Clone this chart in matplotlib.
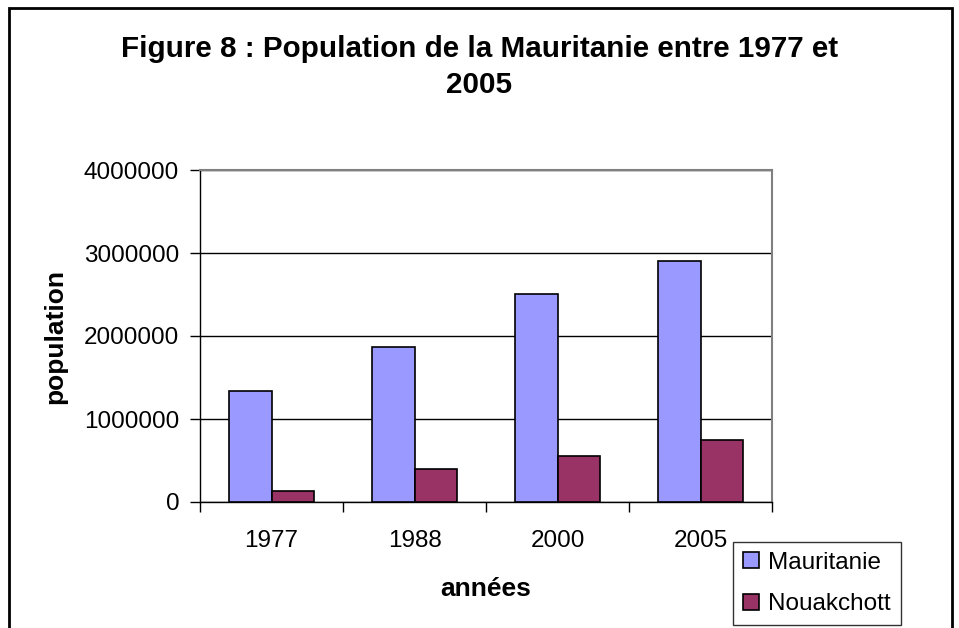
import matplotlib.pyplot as plt
import matplotlib.patches as mpatches
import numpy as np

plt.rcParams['font.family'] = ['Liberation Sans', 'DejaVu Sans']

years = ["1977", "1988", "2000", "2005"]
mauritanie = [1338830, 1864236, 2508159, 2906000]
nouakchott = [134986, 393325, 558195, 743000]

fig = plt.figure(figsize=(9.59, 6.28), dpi=100)
W, H = 959, 628
ax = fig.add_axes([200 / W, (H - 502) / H, (772 - 200) / W, (502 - 170) / H])

x = np.arange(len(years))
w = 0.295
ax.bar(x - w / 2, mauritanie, w, color="#9999FF", edgecolor="black", linewidth=1.2,
       label="Mauritanie", zorder=3)
ax.bar(x + w / 2, nouakchott, w, color="#993366", edgecolor="black", linewidth=1.2,
       label="Nouakchott", zorder=3)

ax.set_xlim(-0.5, len(years) - 0.5)
ax.set_ylim(0, 4000000)
ax.set_yticks([0, 1000000, 2000000, 3000000, 4000000])
ax.set_yticklabels(["0", "1000000", "2000000", "3000000", "4000000"], fontsize=17.5)
ax.yaxis.grid(True, color="black", linewidth=1.0, zorder=0)

ax.set_xticks(x)
ax.set_xticklabels(years, fontsize=17.5)
ax.tick_params(axis="x", length=0, pad=20)
ax.set_xticks(np.arange(-0.5, len(years)), minor=True)
ax.tick_params(axis="x", which="minor", length=7, width=1, direction="out")
ax.tick_params(axis="y", length=7, width=1, direction="out", pad=8)

for s in ["top", "right"]:
    ax.spines[s].set_color("#808080")
    ax.spines[s].set_linewidth(1.5)
for s in ["left", "bottom"]:
    ax.spines[s].set_color("black")
    ax.spines[s].set_linewidth(1.0)

ax.set_ylabel("population", fontsize=19, fontweight="bold", labelpad=12)
ax.set_xlabel("années", fontsize=19, fontweight="bold", labelpad=18)

fig.text(0.5, 1 - 67 / H, "Figure 8 : Population de la Mauritanie entre 1977 et\n2005",
         ha="center", va="center", fontsize=21.3, fontweight="bold", linespacing=1.4)

leg = ax.legend(loc="upper left", bbox_to_anchor=(733 / W, (H - 542) / H),
                bbox_transform=fig.transFigure, fontsize=17.5, frameon=True,
                fancybox=False, edgecolor="black", handlelength=0.65,
                handleheight=0.65, handletextpad=0.4, labelspacing=0.8,
                borderpad=0.4, borderaxespad=0)
leg.get_frame().set_linewidth(1.0)

fig.patches.append(mpatches.Rectangle((9 / W, -0.05), (952 - 9) / W, 1.05 - 8 / H,
                                      transform=fig.transFigure, fill=False,
                                      edgecolor="black", linewidth=2))

fig.savefig("out.png", dpi=100)
